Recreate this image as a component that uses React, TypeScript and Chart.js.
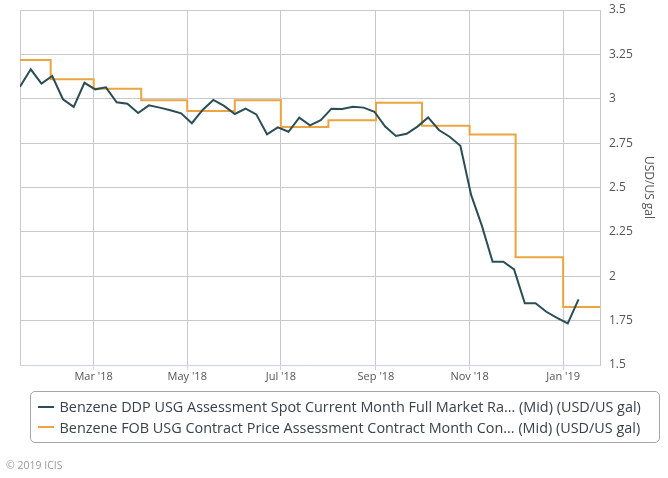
import React, { useEffect, useRef } from 'react';
import { Chart, registerables } from 'chart.js';

Chart.register(...registerables);

// ---------- data ----------
const spotLabel = 'Benzene DDP USG Assessment Spot Current Month Full Market Ra... (Mid) (USD/US gal)';
const contractLabel = 'Benzene FOB USG Contract Price Assessment Contract Month Con... (Mid) (USD/US gal)';

const spotDates = [
  '2018-01-12', '2018-01-19', '2018-01-26', '2018-02-02', '2018-02-09', '2018-02-16', '2018-02-23',
  '2018-03-02', '2018-03-09', '2018-03-16', '2018-03-23', '2018-03-30', '2018-04-06', '2018-04-13',
  '2018-04-20', '2018-04-27', '2018-05-04', '2018-05-11', '2018-05-18', '2018-05-25', '2018-06-01',
  '2018-06-08', '2018-06-15', '2018-06-22', '2018-06-29', '2018-07-06', '2018-07-13', '2018-07-20',
  '2018-07-27', '2018-08-03', '2018-08-10', '2018-08-17', '2018-08-24', '2018-08-31', '2018-09-07',
  '2018-09-14', '2018-09-21', '2018-09-28', '2018-10-05', '2018-10-12', '2018-10-19', '2018-10-26',
  '2018-11-02', '2018-11-09', '2018-11-16', '2018-11-23', '2018-11-30', '2018-12-07', '2018-12-14',
  '2018-12-21', '2018-12-28', '2019-01-04', '2019-01-11',
];
const spotValues = [
  3.068, 3.166, 3.085, 3.128, 2.997, 2.954, 3.09,
  3.053, 3.064, 2.98, 2.972, 2.92, 2.963, 2.95,
  2.935, 2.918, 2.862, 2.937, 2.993, 2.96, 2.914,
  2.944, 2.912, 2.8, 2.839, 2.814, 2.893, 2.85,
  2.879, 2.944, 2.942, 2.955, 2.95, 2.927, 2.843,
  2.79, 2.803, 2.843, 2.895, 2.824, 2.786, 2.735,
  2.458, 2.285, 2.082, 2.082, 2.039, 1.848, 1.848,
  1.8, 1.765, 1.735, 1.87,
];

const contractDates = [
  '2018-01-01', '2018-02-01', '2018-03-01', '2018-04-01', '2018-05-01', '2018-06-01', '2018-07-01',
  '2018-08-01', '2018-09-01', '2018-10-01', '2018-11-01', '2018-12-01', '2019-01-01', '2019-01-25',
];
const contractValues = [
  3.218, 3.11, 3.057, 2.991, 2.931, 2.991, 2.841,
  2.879, 2.978, 2.848, 2.798, 2.107, 1.827, 1.827,
];

const xTickDates = ['2018-03-01', '2018-05-01', '2018-07-01', '2018-09-01', '2018-11-01', '2019-01-01'];
const xTickLabels = ["Mar '18", "May '18", "Jul '18", "Sep '18", "Nov '18", "Jan '19"];
const xAxisStart = '2018-01-12';
const xAxisEnd = '2019-01-25';

const yMin = 1.5;
const yMax = 3.5;
const yStep = 0.25;
const yTitle = 'USD/US gal';
const copyright = '\u00A9 2019 ICIS';

// ---------- helpers ----------
const DAY0 = Date.UTC(2018, 0, 1);
const toDay = (s: string) => {
  const [y, m, d] = s.split('-').map(Number);
  return (Date.UTC(y, m - 1, d) - DAY0) / 86400000;
};

const TEAL = '#2b4d55';
const ORANGE = '#eba440';
const GRID = '#c9c9c9';
const AXIS_LINE = '#ccd6eb';
const FONT = "'Open Sans', sans-serif";

const zeroPad = (s: any) => {
  s.paddingTop = 0;
  s.paddingBottom = 0;
  s.paddingLeft = 0;
  s.paddingRight = 0;
};

export default function App() {
  const ref = useRef<HTMLCanvasElement | null>(null);

  useEffect(() => {
    if (!ref.current) return;
    const xMin = toDay(xAxisStart);
    const xMax = toDay(xAxisEnd);
    const tickDays = xTickDates.map(toDay);
    const chart = new Chart(ref.current, {
      type: 'line',
      data: {
        datasets: [
          {
            label: spotLabel,
            data: spotDates.map((d, i) => ({ x: toDay(d), y: spotValues[i] })),
            borderColor: TEAL,
            backgroundColor: TEAL,
            borderWidth: 2,
            pointRadius: 0,
            tension: 0,
            clip: 0,
          },
          {
            label: contractLabel,
            data: contractDates.map((d, i) => ({ x: toDay(d), y: contractValues[i] })),
            borderColor: ORANGE,
            backgroundColor: ORANGE,
            borderWidth: 2,
            pointRadius: 0,
            stepped: 'before',
            clip: 0,
          },
        ],
      },
      options: {
        responsive: false,
        animation: false,
        events: [],
        layout: { padding: { left: 20, top: 10, right: 0, bottom: 0 } },
        font: { family: FONT },
        plugins: {
          legend: { display: false },
          tooltip: { enabled: false },
        },
        scales: {
          x: {
            type: 'linear',
            min: xMin,
            max: xMax,
            afterBuildTicks: (s: any) => {
              s.ticks = [xMin, ...tickDays].map((v) => ({ value: v }));
            },
            afterFit: (s: any) => {
              s.height = 113;
              zeroPad(s);
            },
            grid: {
              color: GRID,
              tickLength: 5,
              tickColor: (ctx: any) =>
                ctx.tick && ctx.tick.value === xMin ? 'rgba(0,0,0,0)' : AXIS_LINE,
            },
            border: { color: AXIS_LINE },
            ticks: {
              padding: 0,
              autoSkip: false,
              maxRotation: 0,
              minRotation: 0,
              color: '#555',
              font: { family: FONT, size: 11 },
              callback: (v: any) => {
                const i = tickDays.indexOf(Number(v));
                return i >= 0 ? xTickLabels[i] : '';
              },
            },
          },
          y: {
            position: 'right',
            min: yMin,
            max: yMax,
            afterFit: (s: any) => {
              s.width = 68;
              zeroPad(s);
            },
            grid: { color: GRID, drawTicks: false },
            border: { color: GRID },
            ticks: {
              stepSize: yStep,
              padding: 9,
              color: '#555',
              font: { family: FONT, size: 12 },
              callback: (v: any) => String(Number(Number(v).toFixed(2))),
            },
            title: {
              display: true,
              text: yTitle,
              color: '#555',
              font: { family: FONT, size: 12 },
              padding: { top: 12, bottom: 0 },
            },
          },
        },
      } as any,
    });
    return () => chart.destroy();
  }, []);

  const rowStyle = (top: number): React.CSSProperties => ({
    position: 'absolute',
    left: 38,
    top,
    height: 20,
    display: 'flex',
    alignItems: 'center',
    whiteSpace: 'nowrap',
    fontFamily: FONT,
    fontSize: 14.4,
    color: '#3a4149',
  });

  return (
    <div style={{ position: 'absolute', left: 0, top: 0, width: 668, height: 478, background: '#fff', overflow: 'hidden' }}>
      <canvas ref={ref} width={668} height={478} style={{ position: 'absolute', left: 0, top: 0 }} />
      <div
        style={{
          position: 'absolute',
          left: 30,
          top: 391,
          width: 630,
          height: 52,
          border: '1px solid #a6a6a6',
          borderRadius: 5,
          boxSizing: 'border-box',
        }}
      />
      <div style={rowStyle(396.5)}>
        <span style={{ display: 'inline-block', width: 16, height: 2, background: TEAL, marginRight: 5.5 }} />
        <span>{spotLabel}</span>
      </div>
      <div style={rowStyle(417)}>
        <span style={{ display: 'inline-block', width: 16, height: 2, background: ORANGE, marginRight: 5.5 }} />
        <span>{contractLabel}</span>
      </div>
      <div
        style={{
          position: 'absolute',
          left: 6,
          top: 458,
          height: 14,
          lineHeight: '14px',
          fontFamily: FONT,
          fontSize: 10.5,
          color: '#9a9a9a',
          whiteSpace: 'nowrap',
        }}
      >
        {copyright}
      </div>
    </div>
  );
}
